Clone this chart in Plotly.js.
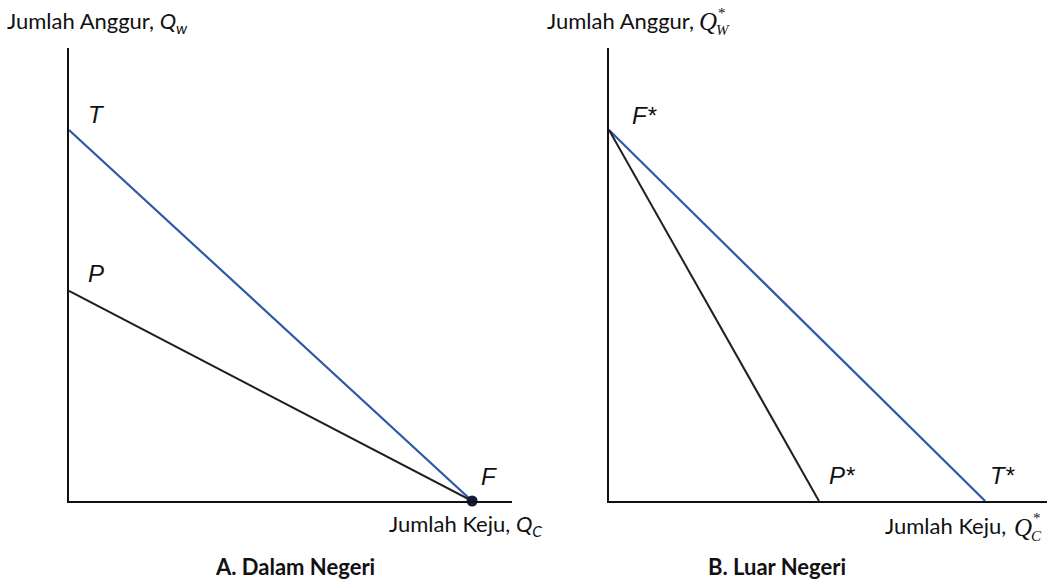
<!DOCTYPE html>
<html><head><meta charset="utf-8">
<script src="https://cdn.plot.ly/plotly-3.0.1.min.js"></script>
<style>html,body{margin:0;padding:0;background:#fff}#chart{width:1047px;height:581px}</style>
</head><body><div id="chart"></div>
<script>
// Panel A (Dalam Negeri): points on the axes
const homeT = [0, 81.9];   // T on y-axis
const homeP = [0, 46.4];   // P on y-axis
const homeF = [91.2, 0];   // F on x-axis
// Panel B (Luar Negeri)
const forF = [0, 81.9];    // F* on y-axis
const forP = [47.5, 0];    // P* on x-axis
const forT = [85.1, 0];    // T* on x-axis

const blue = '#2c5aa8', dark = '#1f1f1f';
const W = 1047, H = 581;
const px = v => v / W, py = v => 1 - v / H;

const traces = [
  {x:[homeT[0], homeF[0]], y:[homeT[1], homeF[1]], xaxis:'x', yaxis:'y', mode:'lines', line:{color:blue, width:2.2}},
  {x:[homeP[0], homeF[0]], y:[homeP[1], homeF[1]], xaxis:'x', yaxis:'y', mode:'lines', line:{color:dark, width:2}},
  {x:[homeF[0]], y:[homeF[1]], xaxis:'x', yaxis:'y', mode:'markers', marker:{color:'#141a33', size:11}, cliponaxis:false},
  {x:[forF[0], forT[0]], y:[forF[1], forT[1]], xaxis:'x2', yaxis:'y2', mode:'lines', line:{color:blue, width:2.2}},
  {x:[forF[0], forP[0]], y:[forF[1], forP[1]], xaxis:'x2', yaxis:'y2', mode:'lines', line:{color:dark, width:2}}
];

const ax = {showgrid:false, zeroline:false, showticklabels:false, ticks:'', showline:true, linecolor:'#111', linewidth:2, fixedrange:true};
const yDom = [py(501), py(48)];

const lblFont = {family:'Lato, sans-serif', size:22, color:'#111'};
const mathFont = {family:'Liberation Serif, serif', size:25, color:'#111'};
const smallMath = {family:'Liberation Serif, serif', size:15, color:'#111'};
const ptFont = {family:'Liberation Sans, Arial, sans-serif', size:24, color:'#111'};
const capFont = {family:'Lato, sans-serif', size:22, color:'#111', weight:'bold'};

function ann(text, x, y, font, xanchor='left', extra={}) {
  return Object.assign({text, x:px(x), y:py(y), xref:'paper', yref:'paper', showarrow:false, xanchor, yanchor:'middle', font}, extra);
}

const annotations = [
  ann('Jumlah Anggur, <i>Q<sub>w</sub></i>', 5, 22, lblFont),
  ann('Jumlah Anggur, ', 545, 20, lblFont),
  ann('<i>Q</i>', 697, 22, mathFont),
  ann('*', 716, 13, smallMath),
  ann('<i>W</i>', 714, 30, smallMath),
  ann('Jumlah Keju, <i>Q<sub>C</sub></i>', 387, 525, lblFont),
  ann('Jumlah Keju, ', 883, 525, lblFont),
  ann('<i>Q</i>', 1012, 527, mathFont),
  ann('*', 1031, 518, smallMath),
  ann('<i>C</i>', 1029, 536, smallMath),
  ann('<b>A. Dalam Negeri</b>', 213, 566, capFont),
  ann('<b>B. Luar Negeri</b>', 706, 566, capFont),
  ann('<i>T</i>', 96, 115, ptFont, 'center'),
  ann('<i>P</i>', 96, 273, ptFont, 'center'),
  ann('<i>F</i>', 489, 477, ptFont, 'center'),
  ann('<i>F*</i>', 644, 116, ptFont, 'center'),
  ann('<i>P*</i>', 842, 475, ptFont, 'center'),
  ann('<i>T*</i>', 1002, 475, ptFont, 'center')
];

const layout = {
  width:W, height:H, margin:{l:0, r:0, t:0, b:0},
  paper_bgcolor:'#fff', plot_bgcolor:'#fff', showlegend:false,
  xaxis: Object.assign({}, ax, {domain:[px(69), px(512)], range:[0, 443/4.42], anchor:'y'}),
  yaxis: Object.assign({}, ax, {domain:yDom, range:[0, 100], anchor:'x'}),
  xaxis2: Object.assign({}, ax, {domain:[px(609), 1], range:[0, 438/4.42], anchor:'y2'}),
  yaxis2: Object.assign({}, ax, {domain:yDom, range:[0, 100], anchor:'x2'}),
  annotations
};

Plotly.newPlot('chart', traces, layout, {displayModeBar:false, staticPlot:true});
</script></body></html>
